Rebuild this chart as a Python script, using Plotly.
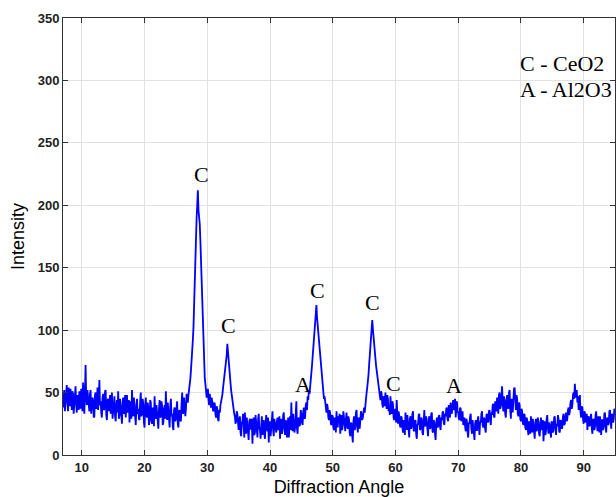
import plotly.graph_objects as go

# Scan grid (degrees 2-theta): regular step scan
angle_start = 7.0
angle_step = 0.1

# Intensity, one row per 2 degrees (20 points per row)
intensity = [
    38, 47, 52, 35, 41, 50, 56, 42, 35, 54, 47, 39, 53, 45, 36, 51, 49, 33, 44, 55,   # 7.0
    55, 40, 34, 48, 46, 36, 51, 44, 37, 53, 42, 35, 58, 46, 33, 50, 72, 45, 40, 52,   # 9.0
    47, 38, 35, 49, 52, 33, 39, 46, 44, 30, 31, 48, 50, 37, 41, 54, 36, 45, 60, 40,   # 11.0
    43, 34, 30, 46, 49, 36, 37, 51, 52, 32, 28, 44, 45, 35, 40, 48, 33, 42, 50, 29,   # 13.0
    36, 43, 47, 31, 27, 40, 44, 34, 51, 29, 32, 45, 40, 30, 25, 42, 46, 33, 35, 48,   # 15.0
    30, 41, 48, 34, 38, 44, 26, 37, 43, 29, 52, 35, 31, 46, 39, 27, 24, 40, 45, 33,   # 17.0
    37, 29, 28, 43, 50, 31, 33, 45, 41, 26, 22, 39, 46, 32, 30, 42, 38, 24, 27, 44,   # 19.0
    42, 28, 25, 38, 36, 23, 47, 33, 29, 40, 34, 26, 21, 37, 44, 30, 31, 43, 39, 24,   # 21.0
    26, 37, 40, 29, 51, 34, 28, 42, 35, 24, 22, 39, 45, 31, 33, 23, 20, 36, 38, 27,   # 23.0
    29, 38, 43, 25, 22, 35, 36, 28, 27, 41, 50, 33, 34, 46, 40, 31, 37, 49, 45, 42,   # 25.0
    48, 52, 55, 61, 68, 74, 82, 92, 102, 125, 148, 165, 178, 190, 200, 212, 196, 192, 185, 172,  # 27.0
    155, 132, 110, 96, 85, 72, 62, 57, 52, 46, 48, 53, 44, 40, 49, 45, 38, 46, 43, 36,  # 29.0
    35, 42, 41, 33, 30, 39, 37, 29, 27, 36, 34, 40, 42, 46, 48, 53, 58, 62, 66, 70,   # 31.0
    72, 80, 89, 84, 78, 70, 64, 58, 52, 47, 44, 39, 36, 33, 31, 25, 27, 35, 33, 24,   # 33.0
    20, 28, 31, 18, 15, 26, 27, 33, 22, 14, 34, 24, 17, 30, 25, 19, 12, 27, 29, 21,   # 35.0
    21, 29, 9, 23, 30, 16, 18, 32, 26, 19, 14, 28, 33, 22, 20, 13, 24, 31, 16, 25,    # 37.0
    28, 17, 13, 26, 32, 21, 19, 30, 10, 23, 27, 15, 22, 33, 35, 20, 15, 29, 24, 18,   # 39.0
    18, 27, 30, 20, 23, 31, 13, 25, 29, 17, 20, 32, 34, 22, 16, 28, 26, 14, 21, 30,   # 41.0
    14, 26, 31, 20, 42, 24, 19, 33, 27, 18, 22, 35, 43, 21, 17, 29, 30, 23, 25, 36,   # 43.0
    33, 26, 24, 35, 38, 29, 30, 40, 42, 36, 47, 44, 52, 49, 58, 62, 66, 72, 78, 86,   # 45.0
    95, 102, 108, 114, 120, 110, 104, 97, 92, 86, 80, 76, 70, 62, 55, 50, 45, 47, 40, 36,  # 47.0
    34, 41, 38, 30, 28, 36, 33, 25, 24, 32, 31, 22, 20, 30, 29, 18, 35, 27, 22, 31,   # 49.0
    27, 33, 17, 25, 32, 20, 24, 35, 30, 22, 19, 29, 34, 23, 21, 31, 28, 18, 15, 26,   # 51.0
    25, 16, 10, 27, 31, 20, 22, 34, 36, 24, 18, 30, 29, 21, 26, 35, 33, 28, 30, 37,   # 53.0
    38, 34, 42, 46, 50, 54, 58, 64, 72, 79, 88, 95, 100, 108, 101, 94, 88, 80, 76, 72,  # 55.0
    68, 64, 60, 55, 52, 47, 44, 51, 49, 41, 38, 47, 46, 39, 50, 42, 37, 48, 45, 35,   # 57.0
    39, 32, 47, 38, 33, 43, 41, 30, 28, 37, 36, 26, 44, 33, 25, 35, 32, 24, 22, 31,   # 59.0
    30, 22, 18, 28, 27, 16, 34, 25, 20, 32, 26, 19, 14, 29, 31, 21, 23, 33, 35, 20,   # 61.0
    19, 27, 28, 17, 13, 24, 25, 32, 33, 20, 21, 30, 29, 18, 16, 26, 36, 23, 24, 31,   # 63.0
    27, 20, 15, 29, 31, 21, 22, 33, 34, 19, 18, 28, 26, 17, 12, 25, 30, 22, 23, 31,   # 65.0
    32, 23, 20, 30, 28, 34, 35, 26, 24, 33, 31, 37, 38, 29, 27, 40, 36, 30, 42, 35,   # 67.0
    33, 40, 44, 36, 39, 45, 30, 41, 43, 34, 35, 29, 28, 38, 37, 27, 31, 35, 24, 30,   # 69.0
    30, 23, 19, 29, 27, 18, 14, 26, 25, 31, 33, 21, 17, 28, 22, 15, 12, 25, 28, 20,   # 71.0
    20, 28, 31, 22, 16, 27, 26, 33, 35, 24, 22, 30, 29, 21, 18, 32, 33, 26, 27, 35,   # 73.0
    36, 28, 24, 34, 32, 40, 41, 31, 30, 43, 38, 35, 46, 39, 33, 48, 50, 37, 39, 47,   # 75.0
    55, 41, 35, 47, 44, 33, 30, 43, 48, 38, 37, 50, 52, 36, 29, 45, 42, 34, 46, 53,   # 77.0
    54, 40, 36, 48, 45, 33, 31, 42, 40, 29, 27, 37, 35, 26, 24, 33, 32, 22, 20, 30,   # 79.0
    28, 20, 16, 27, 25, 17, 31, 23, 18, 29, 24, 15, 13, 26, 29, 19, 21, 30, 26, 17,   # 81.0
    15, 25, 30, 20, 22, 28, 11, 21, 27, 16, 19, 29, 32, 22, 17, 26, 24, 18, 14, 27,   # 83.0
    26, 18, 20, 30, 31, 22, 16, 25, 23, 32, 29, 19, 18, 28, 27, 21, 22, 31, 33, 24,   # 85.0
    25, 31, 34, 27, 29, 36, 38, 32, 35, 42, 44, 37, 40, 48, 50, 45, 57, 49, 46, 52,   # 87.0
    42, 47, 36, 43, 48, 34, 30, 39, 38, 29, 25, 35, 34, 26, 28, 33, 20, 29, 31, 23,   # 89.0
    24, 30, 33, 21, 17, 28, 29, 20, 22, 32, 35, 25, 19, 31, 27, 18, 31, 24, 16, 28,   # 91.0
    28, 20, 23, 33, 34, 22, 18, 29, 30, 24, 25, 35, 36, 27, 21, 33, 32, 26, 29, 37,   # 93.0
    35,                                                                               # 95.0
]
angles = [round(angle_start + angle_step * i, 2) for i in range(len(intensity))]

# Peak labels
peak_labels = ["C", "C", "A", "C", "C", "C", "A"]
peak_label_x = [29.06, 33.37, 45.2, 47.6, 56.4, 59.7, 69.3]
peak_label_y = [225, 103.6, 56.8, 131.4, 122, 57.4, 56]

# Phase key
key_lines = ["C - CeO2", "A - Al2O3"]
key_x = [79.6, 79.6]
key_y = [313.6, 292.8]

x_ticks = [10, 20, 30, 40, 50, 60, 70, 80, 90]
y_ticks = [0, 50, 100, 150, 200, 250, 300, 350]

fig = go.Figure()
fig.add_trace(go.Scatter(
    x=angles, y=intensity, mode="lines",
    line=dict(color="#0000FF", width=1.8),
    showlegend=False, hoverinfo="skip",
))

for t, x, y in zip(peak_labels, peak_label_x, peak_label_y):
    fig.add_annotation(x=x, y=y, text=t, showarrow=False,
                       xanchor="center", yanchor="middle",
                       font=dict(family="Liberation Serif", size=22, color="#000000"))
for t, x, y in zip(key_lines, key_x, key_y):
    fig.add_annotation(x=x, y=y, text=t, showarrow=False,
                       xanchor="left", yanchor="middle",
                       font=dict(family="Liberation Serif", size=22, color="#000000"))

axis_common = dict(
    showline=True, linecolor="#333333", linewidth=1, mirror="ticks",
    ticks="inside", ticklen=5, tickcolor="#333333",
    showgrid=True, gridcolor="#e2e2e2", gridwidth=1,
    zeroline=False,
    tickfont=dict(family="Liberation Sans", size=13, color="#222222", weight="bold"),
)

fig.update_xaxes(range=[7, 95], tickvals=x_ticks,
                 title=dict(text="Diffraction Angle", standoff=10,
                            font=dict(family="Liberation Sans", size=18, color="#000000")),
                 **axis_common)
fig.update_yaxes(range=[0, 350], tickvals=y_ticks,
                 title=dict(text="Intensity", standoff=8,
                            font=dict(family="Liberation Sans", size=18, color="#000000")),
                 **axis_common)

fig.update_layout(
    width=616, height=497,
    margin=dict(l=63, r=1, t=18, b=42),
    paper_bgcolor="white", plot_bgcolor="white",
)

# Remove the browser's default page margin so the figure fills the window exactly
fig.write_html(
    "out.html",
    config={"displayModeBar": False},
    post_script=(
        "document.body.style.margin='0';"
        "document.body.style.overflow='hidden';"
        "document.documentElement.style.overflow='hidden';"
    ),
)
